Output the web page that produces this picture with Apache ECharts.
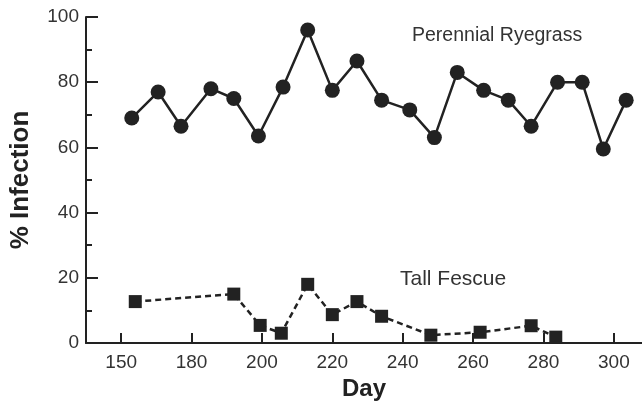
<!DOCTYPE html>
<html>
<head>
<meta charset="utf-8">
<script src="https://cdn.jsdelivr.net/npm/echarts@6/dist/echarts.min.js"></script>
<style>
  html, body { margin: 0; padding: 0; background: #fff; }
  #chart { width: 642px; height: 402px; }
</style>
</head>
<body>
<div id="chart"></div>
<script>
// Perennial ryegrass (circles, solid line)
const ryeDays = [163, 170.5, 177, 185.5, 192, 199, 206, 213, 220, 227, 234, 242, 249, 255.5, 263, 270, 276.5, 284, 291, 297, 303.5];
const ryeVals = [69, 77, 66.5, 78, 75, 63.5, 78.5, 96, 77.5, 86.5, 74.5, 71.5, 63, 83, 77.5, 74.5, 66.5, 80, 80, 59.5, 74.5];

// Tall fescue (squares, dashed line)
const fescueDays = [164, 192, 199.5, 205.5, 213, 220, 227, 234, 248, 262, 276.5, 283.5];
const fescueVals = [12.7, 15, 5.4, 3, 18, 8.7, 12.7, 8.2, 2.4, 3.3, 5.3, 1.8];

// x ticks as printed (first tick reads "150")
const xTickValues = [160, 180, 200, 220, 240, 260, 280, 300];
const xTickLabels = ['150', '180', '200', '220', '240', '260', '280', '300'];

const ink = '#222';
const font = "'Liberation Sans', Arial, Helvetica, sans-serif";

const chart = echarts.init(document.getElementById('chart'));

function pairs(xs, ys) {
    return xs.map((x, i) => [x, ys[i]]);
}

chart.setOption({
    animation: false,
    backgroundColor: '#fff',
    grid: { left: 86, right: 0, top: 17, bottom: 59, outerBoundsMode: 'none', containLabel: false },
    xAxis: {
        type: 'value',
        min: 150,
        max: 308,
        name: 'Day',
        nameLocation: 'middle',
        nameGap: 33,
        nameTextStyle: { fontFamily: font, fontSize: 24, fontWeight: 'bold', color: ink },
        axisLine: { lineStyle: { color: ink, width: 2 } },
        axisTick: { inside: true, length: 10, lineStyle: { color: ink, width: 2 }, customValues: xTickValues },
        axisLabel: {
            customValues: xTickValues,
            margin: 10,
            fontFamily: font,
            fontSize: 19,
            color: '#333',
            formatter: v => xTickLabels[xTickValues.indexOf(v)]
        },
        splitLine: { show: false }
    },
    yAxis: {
        type: 'value',
        min: 0,
        max: 100,
        interval: 20,
        name: '% Infection',
        nameLocation: 'middle',
        nameGap: 52,
        nameTextStyle: { fontFamily: font, fontSize: 26, fontWeight: 'bold', color: ink },
        axisLine: { show: true, lineStyle: { color: ink, width: 2 } },
        axisTick: { inside: true, length: 12, lineStyle: { color: ink, width: 2 } },
        minorTick: { show: true, splitNumber: 2, length: 6, lineStyle: { color: ink, width: 2 } },
        axisLabel: { margin: 7, fontFamily: font, fontSize: 19, color: '#333' },
        splitLine: { show: false }
    },
    series: [
        {
            name: 'Perennial Ryegrass',
            type: 'line',
            data: pairs(ryeDays, ryeVals),
            symbol: 'circle',
            symbolSize: 15,
            itemStyle: { color: ink },
            lineStyle: { color: ink, width: 2.5 }
        },
        {
            name: 'Tall Fescue',
            type: 'line',
            data: pairs(fescueDays, fescueVals),
            symbol: 'rect',
            symbolSize: 13,
            itemStyle: { color: ink },
            lineStyle: { color: ink, width: 2.5, type: [6, 4] }
        }
    ],
    graphic: [
        {
            type: 'text', left: 412, top: 26,
            style: { text: 'Perennial Ryegrass', font: '19.5px ' + font, fill: '#333' }
        },
        {
            type: 'text', left: 400, top: 269,
            style: { text: 'Tall Fescue', font: '21px ' + font, fill: '#333' }
        }
    ]
});
</script>
</body>
</html>
